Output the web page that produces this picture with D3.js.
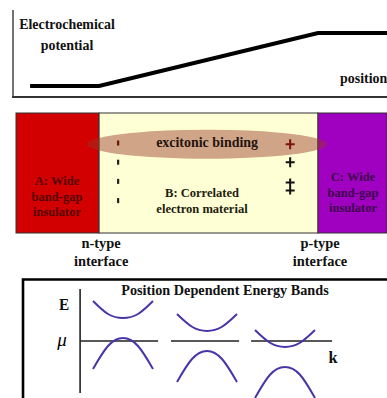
<!DOCTYPE html>
<html>
<head>
<meta charset="utf-8">
<script src="https://cdn.jsdelivr.net/npm/d3@7"></script>
<style>
  html, body { margin: 0; padding: 0; background: #fff; }
  svg { display: block; font-family: "Liberation Serif", "Times New Roman", serif; }
  .lbl { font-weight: bold; }
</style>
</head>
<body>
<div id="chart"></div>
<script>
// 1. data
// position along the device, 0..100 (A | B | C)
const regionNames = ["A", "B", "C"];
const regionBounds = [0, 22.4, 81.4, 100];
const regionColors = ["#d20000", "#ffffd6", "#a000c0"];
const regionLabels = [
  ["A: Wide", "band-gap", "insulator"],
  ["B: Correlated", "electron material"],
  ["C: Wide", "band-gap", "insulator"]
];
const interfaceLabels = [["n-type", "interface"], ["p-type", "interface"]];

// electrochemical potential profile
const potentialPos = [3.8, 22.4, 81.4, 102];
const potentialVal = [0, 0, 1, 1];

// charges at the interfaces (depth 0 = top of the box, 1 = bottom)
const minusDepth = [0.25, 0.41, 0.57, 0.73];
const plusDepth = [0.26, 0.41];
const doublePlusDepth = [0.58, 0.645];

// energy bands, three panels, E relative to mu
const panelCenters = [0, 2.8, 5.4];
const kSamples = [-1, -0.5, 0, 0.5, 1];
const conductionE = [
  [0.80, 0.54, 0.46, 0.54, 0.80],
  [0.54, 0.285, 0.20, 0.285, 0.54],
  [0.22, -0.035, -0.12, -0.035, 0.22]
];
const valenceE = [
  [-0.56, -0.10, 0.06, -0.10, -0.56],
  [-0.82, -0.36, -0.20, -0.36, -0.82],
  [-1.14, -0.675, -0.52, -0.675, -1.14]
];
const muSegments = [[-1.43, 1.17], [1.6, 3.87], [4.27, 6.97]];

// 2. svg
const W = 387, H = 398;
const svg = d3.select("#chart").append("svg")
  .attr("width", W).attr("height", H);

// 3. scales
const xPos = d3.scaleLinear().domain([0, 100]).range([16, 387]);
const yPot = d3.scaleLinear().domain([0, 1]).range([86, 33]);
const yDepth = d3.scaleLinear().domain([0, 1]).range([113, 233]);
const xK = d3.scaleLinear().domain([0, 1]).range([123, 153]);
const yE = d3.scaleLinear().domain([-1, 1]).range([391, 291]);

// bold serif text, slightly condensed like the original figure
function label(g, x, y, str, size, anchor, fill) {
  return g.append("text").attr("class", "lbl")
    .attr("transform", `translate(${x},${y}) scale(0.93,1)`)
    .attr("text-anchor", anchor || "middle")
    .attr("font-size", size)
    .attr("fill", fill || "#111")
    .text(str);
}

// ---------- top panel: electrochemical potential ----------
const gTop = svg.append("g");
gTop.append("line").attr("x1", 13).attr("x2", 13).attr("y1", 10).attr("y2", 97)
  .attr("stroke", "#444").attr("stroke-width", 1.5);
gTop.append("line").attr("x1", 12).attr("x2", W).attr("y1", 97).attr("y2", 97)
  .attr("stroke", "#333").attr("stroke-width", 2.2);

gTop.append("path")
  .datum(potentialPos.map((p, i) => [p, potentialVal[i]]))
  .attr("fill", "none").attr("stroke", "#000").attr("stroke-width", 4)
  .attr("d", d3.line().x(d => xPos(d[0])).y(d => yPot(d[1])));

label(gTop, 67, 29, "Electrochemical", 15);
label(gTop, 67, 50, "potential", 15);
label(gTop, 340, 83, "position", 15, "start");

// ---------- middle panel: heterostructure ----------
const gMid = svg.append("g");
gMid.selectAll("rect.region")
  .data(regionNames)
  .enter().append("rect")
  .attr("class", "region")
  .attr("x", (d, i) => xPos(regionBounds[i]))
  .attr("width", (d, i) => xPos(regionBounds[i + 1]) - xPos(regionBounds[i]))
  .attr("y", yDepth(0)).attr("height", yDepth(1) - yDepth(0))
  .attr("fill", (d, i) => regionColors[i])
  .attr("stroke", "#333").attr("stroke-width", 1);

// excitonic binding ellipse
gMid.append("ellipse")
  .attr("cx", xPos(51.5)).attr("cy", yDepth(0.26))
  .attr("rx", 120).attr("ry", 14.5)
  .attr("fill", "rgb(150,55,40)").attr("fill-opacity", 0.45);
label(gMid, xPos(51.5), 147, "excitonic binding", 15, "middle", "#24140f");

// minus charges (drawn as short dashes)
gMid.selectAll("rect.minus")
  .data(minusDepth)
  .enter().append("rect")
  .attr("class", "minus")
  .attr("x", xPos(27.5) - 1).attr("width", 2.2)
  .attr("y", d => yDepth(d) - 2.5).attr("height", 5)
  .attr("fill", (d, i) => i === 0 ? "#6a1010" : "#222");

// plus charges
const plusPath = (cx, cy) => `M${cx - 4.5},${cy}H${cx + 4.5}M${cx},${cy - 5}V${cy + 5}`;
gMid.selectAll("path.plus")
  .data(plusDepth)
  .enter().append("path")
  .attr("class", "plus")
  .attr("d", d => plusPath(xPos(73.9), yDepth(d)))
  .attr("stroke", (d, i) => i === 0 ? "#7a1010" : "#111")
  .attr("stroke-width", 2).attr("fill", "none");
gMid.append("path")
  .attr("d", `M${xPos(73.9)},${yDepth(doublePlusDepth[0]) - 4}V${yDepth(doublePlusDepth[1]) + 4}` +
    doublePlusDepth.map(d => `M${xPos(73.9) - 4.5},${yDepth(d)}H${xPos(73.9) + 4.5}`).join(""))
  .attr("stroke", "#111").attr("stroke-width", 2).attr("fill", "none");

// region labels
const labelCx = [57, 202, 353];
const labelY0 = [185, 197, 181];
const labelColors = ["#560000", "#22200e", "#3c004c"];
regionLabels.forEach((lines, i) => {
  lines.forEach((d, j) => label(gMid, labelCx[i], labelY0[i] + j * 15.5, d, 13.5, "middle", labelColors[i]));
});

// interface labels
[regionBounds[1], regionBounds[2]].forEach((b, i) => {
  interfaceLabels[i].forEach((d, j) => label(gMid, xPos(b) + 2, 248 + j * 18, d, 15.5));
});

// ---------- bottom panel: energy bands ----------
const gBot = svg.append("g");
gBot.append("path")
  .attr("d", `M23,${H + 5}V279.5H${W + 5}`)
  .attr("fill", "none").attr("stroke", "#000").attr("stroke-width", 2.6);
label(gBot, 225, 295, "Position Dependent Energy Bands", 15.3);

// E axis
gBot.append("line").attr("x1", xK(-1.43)).attr("x2", xK(-1.43))
  .attr("y1", 289).attr("y2", 393)
  .attr("stroke", "#222").attr("stroke-width", 1.6);
label(gBot, 64, 310, "E", 16.5);
gBot.append("text").attr("x", 62).attr("y", 346)
  .attr("text-anchor", "middle").attr("font-size", 19).attr("font-style", "italic")
  .text("\u03BC");
label(gBot, 333, 363, "k", 17.5);

// mu lines
gBot.selectAll("line.mu")
  .data(muSegments)
  .enter().append("line")
  .attr("class", "mu")
  .attr("x1", d => xK(d[0])).attr("x2", d => xK(d[1]))
  .attr("y1", yE(0)).attr("y2", yE(0))
  .attr("stroke", "#222").attr("stroke-width", 1.6);

// bands
const bandLine = d3.line().curve(d3.curveNatural)
  .x(d => xK(d[0])).y(d => yE(d[1]));
const bands = [];
panelCenters.forEach((c, p) => {
  bands.push(kSamples.map((k, i) => [c + k, conductionE[p][i]]));
  bands.push(kSamples.map((k, i) => [c + k, valenceE[p][i]]));
});
gBot.selectAll("path.band")
  .data(bands)
  .enter().append("path")
  .attr("class", "band")
  .attr("d", bandLine)
  .attr("fill", "none").attr("stroke", "#4636a8").attr("stroke-width", 2);
</script>
</body>
</html>
